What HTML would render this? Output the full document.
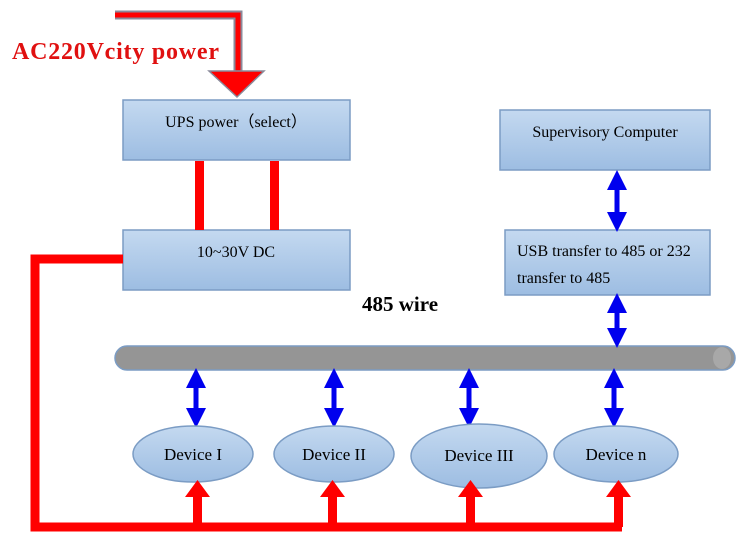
<!DOCTYPE html>
<html><head><style>body{margin:0;background:#fff}svg{display:block}</style></head><body>
<svg width="750" height="554" viewBox="0 0 750 554" xmlns="http://www.w3.org/2000/svg" font-family="'Liberation Serif',serif">
<defs>
<linearGradient id="g" x1="0" y1="0" x2="0" y2="1"><stop offset="0" stop-color="#c4d9f0"/><stop offset="1" stop-color="#9dbde2"/></linearGradient>
<marker id="b" viewBox="0 0 10 10" refX="5" refY="5" markerWidth="4" markerHeight="4" orient="auto-start-reverse"><path d="M0,0L10,5L0,10z" fill="#0000ee"/></marker>
</defs>
<!-- AC input -->
<path d="M115,15H238V72" fill="none" stroke="#8a8a9a" stroke-width="9"/>
<path d="M115,15H238V72" fill="none" stroke="#ff0000" stroke-width="5"/>
<path d="M209,71H264L237,97z" fill="#ff0000" stroke="#8a8a9a" stroke-width="1.5"/>
<text x="12" y="59" font-size="24" font-weight="bold" fill="#e01010" textLength="207">AC220Vcity power</text>
<!-- boxes -->
<rect x="123" y="100" width="227" height="60" fill="url(#g)" stroke="#7b9cc4" stroke-width="1.5"/>
<text x="236" y="127" font-size="16" text-anchor="middle">UPS power（select）</text>
<rect x="123" y="230" width="227" height="60" fill="url(#g)" stroke="#7b9cc4" stroke-width="1.5"/>
<text x="236" y="257" font-size="16" text-anchor="middle">10~30V DC</text>
<rect x="195" y="161" width="9" height="69" fill="#ff0000"/>
<rect x="270" y="161" width="9" height="69" fill="#ff0000"/>
<rect x="500" y="110" width="210" height="60" fill="url(#g)" stroke="#7b9cc4" stroke-width="1.5"/>
<text x="605" y="137" font-size="16" text-anchor="middle">Supervisory Computer</text>
<rect x="505" y="230" width="205" height="65" fill="url(#g)" stroke="#7b9cc4" stroke-width="1.5"/>
<text x="517" y="256" font-size="16">USB transfer to 485 or 232</text>
<text x="517" y="283" font-size="16">transfer to 485</text>
<text x="362" y="311" font-size="21" font-weight="bold">485 wire</text>
<!-- red power line -->
<path d="M123,259H35V527H622" fill="none" stroke="#ff0000" stroke-width="9"/>
<!-- bus -->
<rect x="115" y="346" width="620" height="24" rx="12" fill="#959595" stroke="#7b9cc4" stroke-width="1.5"/>
<ellipse cx="722" cy="358" rx="9" ry="11" fill="#a8a8a8"/>
<!-- blue arrows -->
<g stroke="#0000ee" stroke-width="5" marker-start="url(#b)" marker-end="url(#b)">
<line x1="617" y1="180" x2="617" y2="222"/>
<line x1="617" y1="303" x2="617" y2="338"/>
<line x1="196" y1="378" x2="196" y2="418"/>
<line x1="334" y1="378" x2="334" y2="418"/>
<line x1="469" y1="378" x2="469" y2="418"/>
<line x1="614" y1="378" x2="614" y2="418"/>
</g>
<!-- devices -->
<g fill="url(#g)" stroke="#7b9cc4" stroke-width="1.5">
<ellipse cx="193" cy="454" rx="60" ry="28"/>
<ellipse cx="334" cy="454" rx="60" ry="28"/>
<ellipse cx="479" cy="456" rx="68" ry="32"/>
<ellipse cx="616" cy="454" rx="62" ry="28"/>
</g>
<g font-size="17" text-anchor="middle">
<text x="193" y="460">Device I</text>
<text x="334" y="460">Device II</text>
<text x="479" y="461">Device III</text>
<text x="616" y="460">Device n</text>
</g>
<g fill="#ff0000">
<rect x="193" y="495" width="9" height="32"/><path d="M185,497H210L197.5,480z"/>
<rect x="328" y="495" width="9" height="32"/><path d="M320,497H345L332.5,480z"/>
<rect x="466" y="495" width="9" height="32"/><path d="M458,497H483L470.5,480z"/>
<rect x="614" y="495" width="9" height="32"/><path d="M606,497H631L618.5,480z"/>
</g>
</svg>
</body></html>
